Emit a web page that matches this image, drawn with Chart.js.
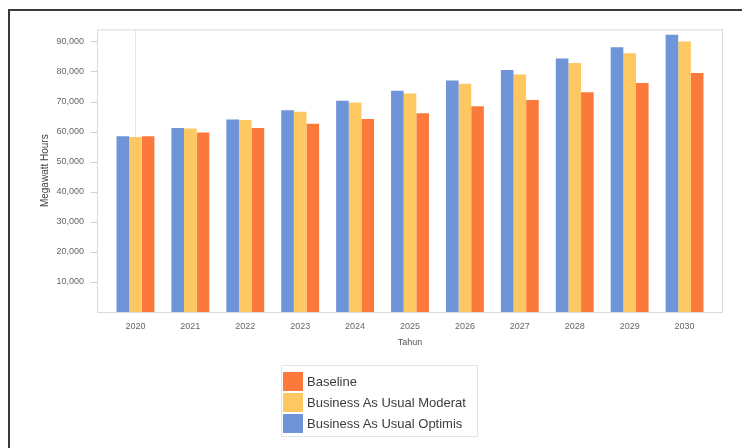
<!DOCTYPE html>
<html>
<head>
<meta charset="utf-8">
<script src="https://cdn.jsdelivr.net/npm/chart.js@4/dist/chart.umd.min.js"></script>
<style>
  html, body { margin: 0; padding: 0; background: #fff; }
  #wrap { position: relative; width: 742px; height: 448px; overflow: hidden; }
  #frame {
    position: absolute; left: 8px; top: 9px; width: 760px; height: 460px;
    border-top: 2px solid #3a3a3a; border-left: 2px solid #3a3a3a;
  }
  canvas { position: absolute; left: 0; top: 0; }
  #legend {
    position: absolute; left: 281px; top: 365px; width: 197px; height: 72px;
    border: 1px solid #e4e4e4; box-sizing: border-box;
    font-family: "Liberation Sans", Arial, sans-serif; font-size: 13px; color: #3c3c3c;
  }
  #legend .item { position: absolute; left: 1px; height: 19px; line-height: 19px; white-space: nowrap; }
  #legend .box { display: inline-block; width: 20px; height: 19px; vertical-align: top; margin-right: 4px; }
</style>
</head>
<body>
<div id="wrap">
  <canvas id="energyChart" width="742" height="448"></canvas>
  <div id="frame"></div>
  <div id="legend"></div>
</div>
<script>
const years = ["2020", "2021", "2022", "2023", "2024", "2025", "2026", "2027", "2028", "2029", "2030"];
const optimis = [58500, 61200, 64000, 67100, 70300, 73600, 77000, 80500, 84300, 88100, 92200];
const moderat = [58200, 61000, 63900, 66600, 69700, 72700, 75900, 79000, 82800, 86100, 90000];
const baseline = [58500, 59700, 61200, 62600, 64200, 66100, 68400, 70500, 73100, 76200, 79500];
const yTicks = [10000, 20000, 30000, 40000, 50000, 60000, 70000, 80000, 90000];

const BLUE = "#6f94d7";
const YELLOW = "#fdc862";
const ORANGE = "#fb7a3b";

// plot frame is a bit wider than the category band
const framePlugin = {
  id: "plotFrame",
  beforeDatasetsDraw(chart) {
    const { ctx, chartArea, scales } = chart;
    const left = chartArea.left - 11;
    const right = chartArea.right + 10;
    ctx.save();
    ctx.strokeStyle = "#dadada";
    ctx.lineWidth = 1;
    ctx.strokeRect(left + 0.5, chartArea.top + 0.5, right - left, chartArea.bottom - chartArea.top);

    // faint vertical line at first category
    const x0 = Math.round(scales.x.getPixelForValue(0)) + 0.5;
    ctx.strokeStyle = "#e6e6e6";
    ctx.beginPath();
    ctx.moveTo(x0, chartArea.top);
    ctx.lineTo(x0, chartArea.bottom);
    ctx.stroke();

    // y tick marks
    ctx.strokeStyle = "#cfcfcf";
    yTicks.forEach((v) => {
      const y = Math.round(scales.y.getPixelForValue(v)) + 0.5;
      ctx.beginPath();
      ctx.moveTo(left - 6, y);
      ctx.lineTo(left, y);
      ctx.stroke();
    });
    ctx.restore();
  },
};

const chart = new Chart(document.getElementById("energyChart"), {
  type: "bar",
  data: {
    labels: years,
    datasets: [
      { label: "Business As Usual Optimis", data: optimis, backgroundColor: BLUE },
      { label: "Business As Usual Moderat", data: moderat, backgroundColor: YELLOW },
      { label: "Baseline", data: baseline, backgroundColor: ORANGE },
    ],
  },
  options: {
    responsive: false,
    animation: false,
    devicePixelRatio: 1,
    categoryPercentage: 0.69,
    barPercentage: 1.0,
    layout: { padding: { top: 28, right: 30, bottom: 96, left: 0 } },
    plugins: {
      legend: { display: false },
      tooltip: { enabled: false },
    },
    scales: {
      x: {
        grid: { display: false, drawTicks: false },
        border: { display: false },
        ticks: {
          color: "#666",
          padding: 9,
          font: { family: "Liberation Sans", size: 9 },
        },
        title: {
          display: true,
          text: "Tahun",
          color: "#555",
          padding: { top: 0, bottom: 4 },
          font: { family: "Liberation Sans", size: 9 },
        },
        afterFit(scale) {
          scale.height = 40;
        },
      },
      y: {
        min: 0,
        max: 94000,
        grid: { display: false, drawTicks: false },
        border: { display: false },
        afterBuildTicks(scale) {
          scale.ticks = yTicks.map((v) => ({ value: v }));
        },
        ticks: {
          color: "#666",
          padding: 24,
          font: { family: "Liberation Sans", size: 9 },
          callback: (val) => Number(val).toLocaleString("en-US"),
        },
        title: {
          display: true,
          text: "Megawatt Hours",
          color: "#444",
          padding: { top: 39, bottom: 0 },
          font: { family: "Liberation Sans", size: 10 },
        },
        afterFit(scale) {
          scale.width = 108;
        },
      },
    },
  },
  plugins: [framePlugin],
});

// legend built from the chart's datasets, listed in reverse order
const legendEl = document.getElementById("legend");
const items = chart.options.plugins.legend.labels.generateLabels(chart).reverse();
items.forEach((item, i) => {
  const row = document.createElement("div");
  row.className = "item";
  row.style.top = 6 + i * 21 + "px";
  const box = document.createElement("span");
  box.className = "box";
  box.style.background = item.fillStyle;
  row.appendChild(box);
  row.appendChild(document.createTextNode(item.text));
  legendEl.appendChild(row);
});
</script>
</body>
</html>
